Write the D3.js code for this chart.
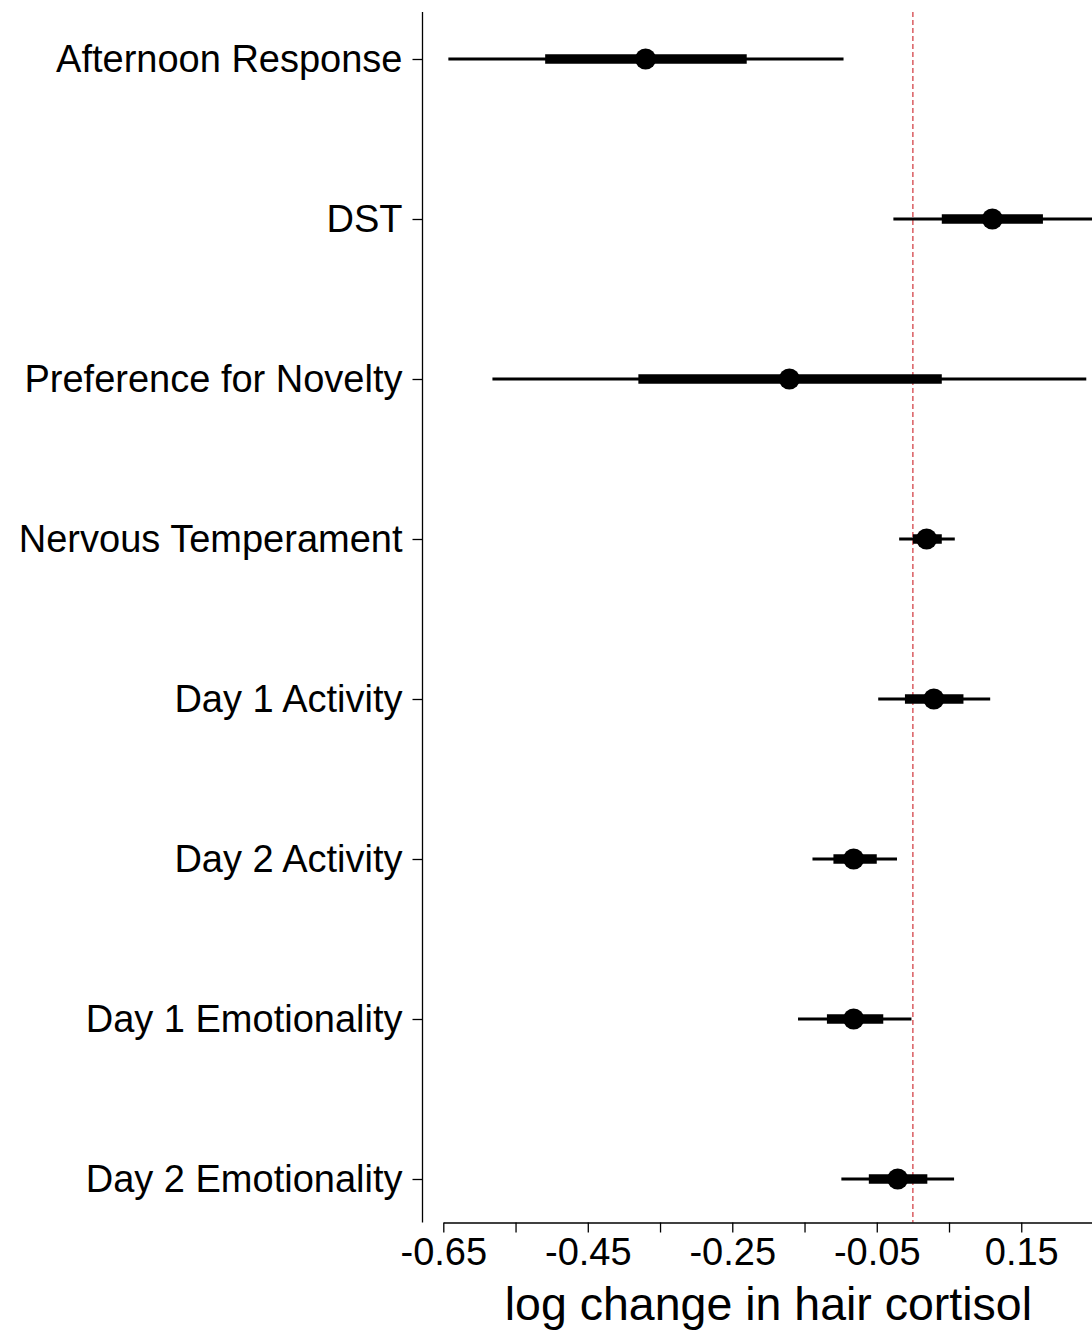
<!DOCTYPE html>
<html>
<head>
<meta charset="utf-8">
<script src="https://cdn.jsdelivr.net/npm/d3@7"></script>
<style>
  html, body { margin: 0; padding: 0; background: #fff; }
  svg { display: block; }
  text { font-family: "Liberation Sans", Arial, sans-serif; fill: #000; }
</style>
</head>
<body>
<svg id="chart" width="1092" height="1330"></svg>
<script>
// ---- data ----
const categories = ["Afternoon Response", "DST", "Preference for Novelty", "Nervous Temperament",
  "Day 1 Activity", "Day 2 Activity", "Day 1 Emotionality", "Day 2 Emotionality"];
const estimate = [-0.370, 0.110, -0.171, 0.019, 0.029, -0.082, -0.082, -0.021];
const innerLow  = [-0.509, 0.040, -0.380, 0.000, -0.011, -0.110, -0.119, -0.061];
const innerHigh = [-0.230, 0.180, 0.040, 0.040, 0.070, -0.050, -0.041, 0.020];
const outerLow  = [-0.643, -0.027, -0.582, -0.019, -0.048, -0.139, -0.159, -0.099];
const outerHigh = [-0.096, 0.250, 0.240, 0.058, 0.107, -0.022, -0.002, 0.057];
const xTicks = [-0.65, -0.55, -0.45, -0.35, -0.25, -0.15, -0.05, 0.05, 0.15, 0.25];
const xTickLabels = ["-0.65", "", "-0.45", "", "-0.25", "", "-0.05", "", "0.15", ""];
const refValue = 0;
const xTitle = "log change in hair cortisol";

// ---- layout ----
const svg = d3.select("#chart");
const x = d3.scaleLinear().domain([-0.65, 0.25]).range([443.3, 1093.5]);
const y = d3.scalePoint().domain(categories).range([14, 1224]).padding(0.28125);
const axisY = 1222.5, axisX = 422.5;

// reference dashed line
svg.append("line")
  .attr("x1", x(refValue)).attr("x2", x(refValue))
  .attr("y1", 12).attr("y2", axisY)
  .attr("stroke", "#d0343a").attr("stroke-width", 1.2)
  .attr("stroke-dasharray", "5,3");

const rows = categories.map((c, i) => ({
  c, est: estimate[i], il: innerLow[i], ih: innerHigh[i], ol: outerLow[i], oh: outerHigh[i]
}));

const g = svg.append("g");
g.selectAll("line.outer").data(rows).join("line").attr("class", "outer")
  .attr("x1", d => x(d.ol)).attr("x2", d => x(d.oh))
  .attr("y1", d => y(d.c)).attr("y2", d => y(d.c))
  .attr("stroke", "#000").attr("stroke-width", 3.2);
g.selectAll("line.inner").data(rows).join("line").attr("class", "inner")
  .attr("x1", d => x(d.il)).attr("x2", d => x(d.ih))
  .attr("y1", d => y(d.c)).attr("y2", d => y(d.c))
  .attr("stroke", "#000").attr("stroke-width", 9.5);
g.selectAll("circle").data(rows).join("circle")
  .attr("cx", d => x(d.est)).attr("cy", d => y(d.c)).attr("r", 10.5)
  .attr("fill", "#000");

// x axis
const xAxis = d3.axisBottom(x).tickValues(xTicks)
  .tickFormat((d, i) => xTickLabels[i]).tickSize(10).tickSizeOuter(0).tickPadding(6);
const gx = svg.append("g").attr("transform", `translate(0,${axisY})`).call(xAxis);
gx.select(".domain").attr("stroke", "#000").attr("stroke-width", 1.3);
gx.selectAll(".tick line").attr("stroke", "#000").attr("stroke-width", 1.3);
gx.selectAll(".tick text").attr("font-size", 38)
  .attr("font-family", '"Liberation Sans", Arial, sans-serif').attr("fill", "#000");

// y axis
const yAxis = d3.axisLeft(y).tickSize(10).tickSizeOuter(0).tickPadding(10);
const gy = svg.append("g").attr("transform", `translate(${axisX},0)`).call(yAxis);
gy.select(".domain").attr("d", `M0,12V${axisY}`).attr("stroke", "#000").attr("stroke-width", 1.3);
gy.selectAll(".tick line").attr("stroke", "#000").attr("stroke-width", 1.3);
gy.selectAll(".tick text").attr("font-size", 38)
  .attr("font-family", '"Liberation Sans", Arial, sans-serif').attr("fill", "#000");

// x title
svg.append("text")
  .attr("x", (x.range()[0] + x.range()[1]) / 2).attr("y", 1320)
  .attr("text-anchor", "middle").attr("font-size", 46.5)
  .text(xTitle);
</script>
</body>
</html>
